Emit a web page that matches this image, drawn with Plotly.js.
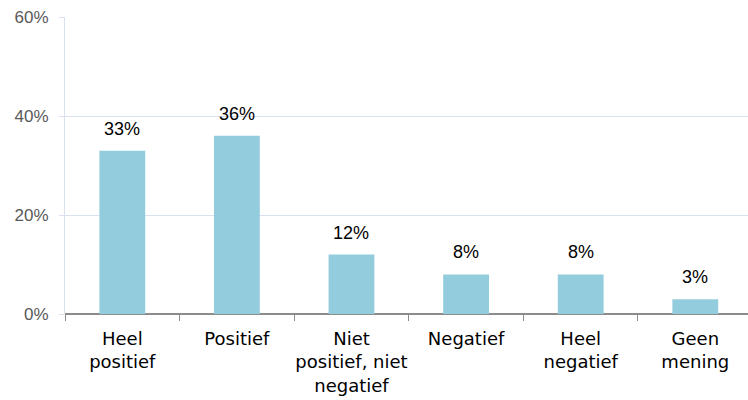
<!DOCTYPE html>
<html><head><meta charset="utf-8">
<script src="https://cdn.plot.ly/plotly-3.0.1.min.js"></script>
<style>html,body{margin:0;padding:0;background:#fff;}#chart{width:748px;height:400px;}</style>
</head><body><div id="chart"></div>
<script>
const categories = ["Heel<br>positief", "Positief", "Niet<br>positief, niet<br>negatief", "Negatief", "Heel<br>negatief", "Geen<br>mening"];
const values = [0.33, 0.36, 0.12, 0.08, 0.08, 0.03];
const valueLabels = ["33%", "36%", "12%", "8%", "8%", "3%"];
const yTicks = [0, 0.2, 0.4, 0.6];
const yTickLabels = ["0%", "20%", "40%", "60%"];

const trace = {
  type: "bar", x: categories, y: values, width: 0.4,
  marker: {color: "#93CDDD"}, hoverinfo: "none", cliponaxis: false
};
const annotations = categories.map((c, i) => ({
  x: c, y: values[i], xref: "x", yref: "y", text: valueLabels[i],
  showarrow: false, yanchor: "bottom", yshift: 10,
  font: {family: "Liberation Sans, Arial, sans-serif", size: 18, color: "#000"}
}));
const layout = {
  width: 748, height: 400,
  margin: {l: 65, r: 0, t: 17, b: 86, pad: 0},
  paper_bgcolor: "#fff", plot_bgcolor: "#fff",
  showlegend: false,
  font: {family: "Liberation Sans, Arial, sans-serif"},
  xaxis: {
    type: "category", range: [-0.5, 5.46], tickson: "boundaries",
    ticks: "outside", ticklen: 6, tickcolor: "#8c8c8c", tickwidth: 1,
    showline: false, showgrid: false, zeroline: false, tickangle: 0,
    ticklabelstandoff: 12,
    tickfont: {family: "DejaVu Sans, sans-serif", size: 18, color: "#000"}, fixedrange: true
  },
  yaxis: {
    range: [0, 0.6], tickvals: yTicks, ticktext: yTickLabels,
    ticks: "outside", ticklen: 5, tickcolor: "#D9E1F0",
    showgrid: true, gridcolor: "#D9E1F0", gridwidth: 1,
    showline: true, linecolor: "#D9E1F0", linewidth: 1,
    zeroline: true, zerolinecolor: "#8c8c8c", zerolinewidth: 1.5,
    ticklabelstandoff: 7,
    tickfont: {size: 17, color: "#595959"}, fixedrange: true
  },
  annotations: annotations,
  bargap: 0.6
};
Plotly.newPlot("chart", [trace], layout, {displayModeBar: false, staticPlot: true});
</script></body></html>
